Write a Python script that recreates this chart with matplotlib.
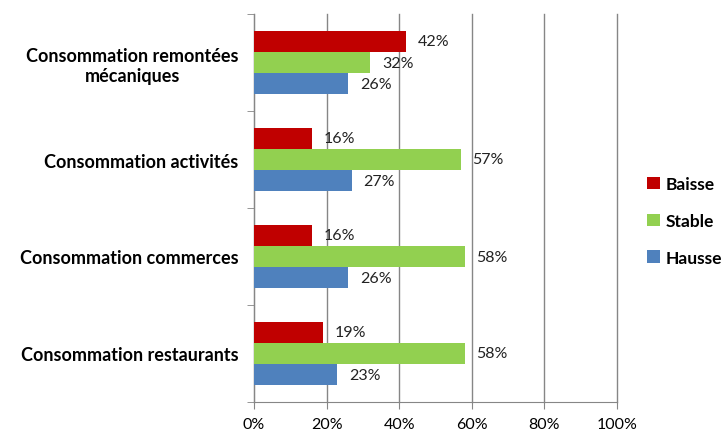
import numpy as np
import matplotlib.pyplot as plt

categories = ["Consommation remontées\nmécaniques", "Consommation activités",
              "Consommation commerces", "Consommation restaurants"]
baisse = [42, 16, 16, 19]
stable = [32, 57, 58, 58]
hausse = [26, 27, 26, 23]
series = [("Baisse", baisse, "#C00000"),
          ("Stable", stable, "#92D050"),
          ("Hausse", hausse, "#4F81BD")]

plt.rcParams['font.family'] = ['Lato', 'DejaVu Sans']

fig = plt.figure(figsize=(7.23, 4.35), dpi=100)
ax = fig.add_axes([254 / 723, 1 - 403 / 435, (617 - 254) / 723, (403 - 15) / 435])

y = np.arange(len(categories))
h = 0.218
for i, (name, vals, col) in enumerate(series):
    pos = y + (i - 1) * h
    ax.barh(pos, vals, height=h, color=col, label=name, zorder=3)
    for p, v in zip(pos, vals):
        ax.text(v + 3.2, p, f"{v}%", va='center', ha='left', fontsize=11.5,
                color='#222222', zorder=4)

ax.set_xlim(0, 100)
ax.set_ylim(len(categories) - 0.5, -0.5)
ax.set_xticks(range(0, 101, 20))
ax.set_xticklabels([f"{t}%" for t in range(0, 101, 20)], fontsize=11.5)
ax.set_yticks(y)
ax.set_yticklabels(categories, fontsize=13, fontweight='bold')
for lab in ax.get_yticklabels():
    lab.set_multialignment('center')
ax.set_yticks(np.arange(-0.5, len(categories), 1), minor=True)
ax.tick_params(axis='y', which='major', length=0, pad=11)
ax.tick_params(axis='y', which='minor', length=5, color='#868686')
ax.tick_params(axis='x', length=5, color='#868686', pad=6)
ax.grid(axis='x', color='#868686', linewidth=1, zorder=0)
for gl in ax.get_xgridlines():
    gl.set_clip_on(False)
for s in ['top', 'right']:
    ax.spines[s].set_visible(False)
for s in ['left', 'bottom']:
    ax.spines[s].set_color('#868686')

leg = fig.legend(loc='center left', bbox_to_anchor=(647 / 723, 1 - 222 / 435),
                 frameon=False, handlelength=0.75, handleheight=0.75,
                 labelspacing=1.2, handletextpad=0.3, borderpad=0,
                 borderaxespad=0, prop={'weight': 'bold', 'size': 12.5})

fig.savefig("out.png", dpi=100)
